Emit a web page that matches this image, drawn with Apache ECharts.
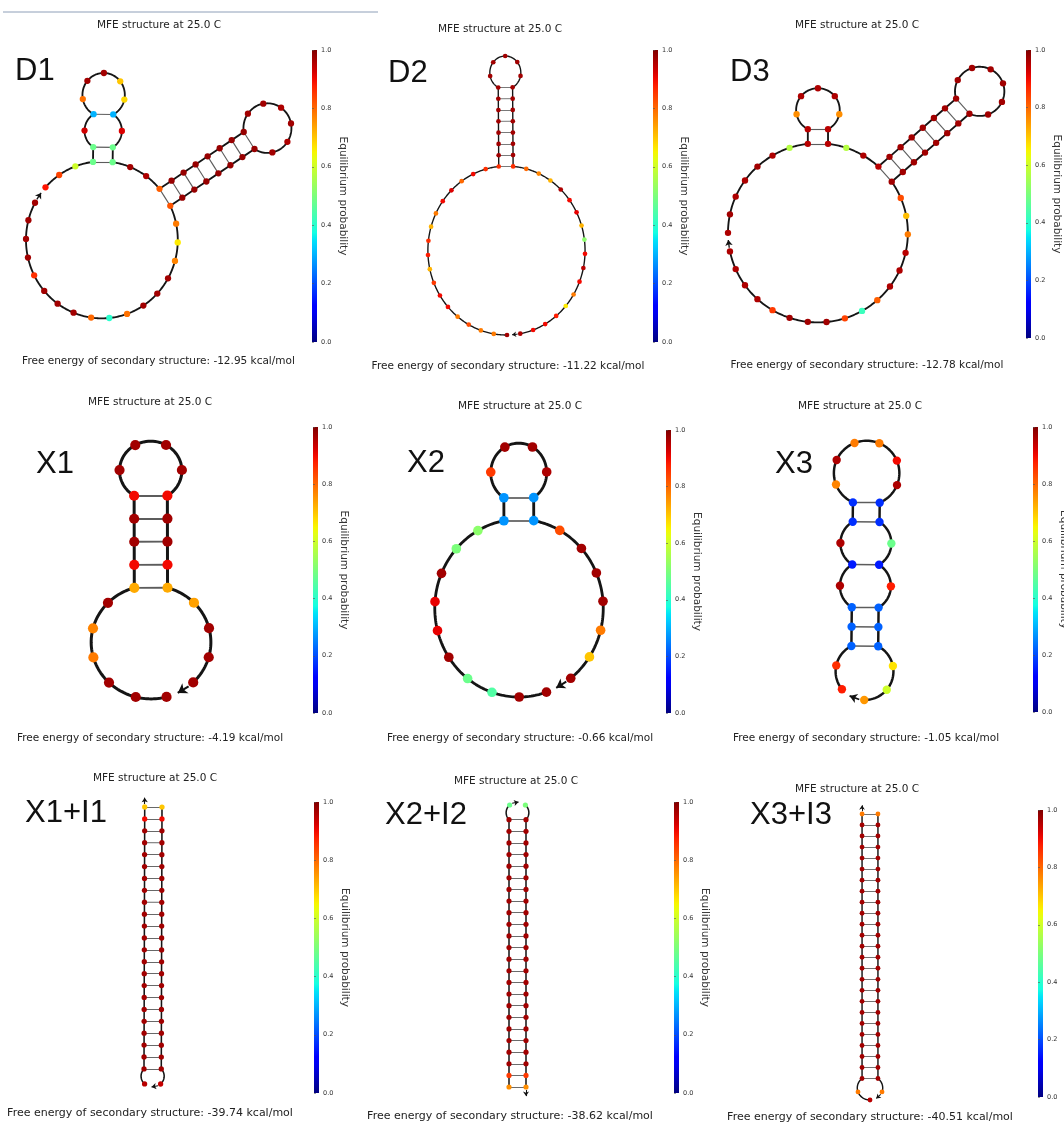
<!DOCTYPE html>
<html>
<head>
<meta charset="utf-8">
<title>MFE structures</title>
<script src="https://cdn.jsdelivr.net/npm/echarts@6.0.0/dist/echarts.min.js"></script>
<style>
html,body{margin:0;padding:0;background:#ffffff;}
#chart{width:1064px;height:1122px;}
</style>
</head>
<body>
<div id="chart"></div>
<script>
// ================= DATA =================
const panelLabels = ['D1','D2','D3','X1','X2','X3','X1+I1','X2+I2','X3+I3'];
const freeEnergies = [-12.95,-11.22,-12.78,-4.19,-0.66,-1.05,-39.74,-38.62,-40.51];
const temperatureC = 25.0;
const colorbarTicks = [0.0,0.2,0.4,0.6,0.8,1.0];

// dot-bracket structures ('+' = strand break)
const structD1 = '...' + '((' + '.' + '(' + '.....' + ')' + '.' + '))' + '..' + '((((((((' + '......' + '))))))))' + '.................';
const structD2 = '..................' + '((((((((' + '.....' + '))))))))' + '.................';
const structD3 = '.......' + '((' + '.....' + '))' + '..' + '((((((((' + '......' + '))))))))' + '.................';
const structX1 = '......' + '(((((' + '....' + ')))))' + '....';
const structX2 = '..........' + '((' + '....' + '))' + '.......';
const structX3 = '..(((.(.((......)).).)))...';
const structX1I1 = '.' + '(((((((((((((((((((((((' + '+' + ')))))))))))))))))))))))' + '.';
const structX2I2 = '((((((((((((((((((((((((' + '.' + '+' + '.' + '))))))))))))))))))))))))';
const structX3I3 = '..' + '(((((((((((((((((((((((((' + '+' + ')))))))))))))))))))))))))' + '.';

// equilibrium probability of each nucleotide (5' -> 3')
const probD1 = [0.89,0.84,0.60,0.48,0.48,0.93,0.30,0.79,0.97,0.97,0.70,0.68,0.30,0.92,0.48,0.48,0.97,0.96,0.81,
  0.98,0.98,0.98,0.98,0.98,0.98,0.98,
  0.97,0.97,0.96,0.97,0.96,0.97,
  0.98,0.98,0.98,0.98,0.98,0.98,0.98,
  0.82,0.78,0.66,0.77,0.97,0.97,0.97,0.79,0.40,0.80,0.97,0.97,0.97,0.86,0.97,0.97,0.97,0.97];
const probD2 = [0.97,0.78,0.78,0.83,0.78,0.90,0.90,0.85,0.72,0.88,0.86,0.72,0.78,0.90,0.92,0.80,0.90,0.86,0.86,
  0.97,0.97,0.97,0.97,0.97,0.97,0.97,
  0.97,0.97,0.97,0.97,0.97,
  0.97,0.97,0.97,0.97,0.97,0.97,0.97,
  0.86,0.80,0.77,0.72,0.96,0.90,0.91,0.72,0.52,0.90,0.95,0.90,0.78,0.66,0.88,0.90,0.90,0.96];
const probD3 = [0.96,0.97,0.96,0.96,0.97,0.96,0.57,0.95,0.95,0.76,0.96,0.96,0.96,0.76,0.95,0.95,0.57,0.96,0.95,
  0.97,0.97,0.97,0.97,0.97,0.97,0.97,
  0.97,0.97,0.97,0.97,0.97,0.97,
  0.97,0.97,0.97,0.97,0.97,0.97,0.97,0.97,
  0.83,0.71,0.78,0.95,0.96,0.96,0.81,0.42,0.84,0.97,0.97,0.97,0.85,0.96,0.96,0.96,0.96];
const probX1 = [0.97,0.97,0.97,0.78,0.77,0.97,0.73,0.90,0.97,0.97,0.90,0.97,0.97,0.97,0.97,0.90,0.97,0.97,0.90,0.73,0.74,0.97,0.97,0.97];
const probX2 = [0.97,0.97,0.45,0.48,0.97,0.91,0.91,0.97,0.50,0.52,0.27,0.27,0.85,0.97,0.97,0.96,0.27,0.27,0.83,0.97,0.97,0.97,0.78,0.70,0.97];
const probX3 = [0.88,0.86,0.22,0.22,0.22,0.96,0.15,0.96,0.17,0.17,0.77,0.96,0.78,0.78,0.90,0.96,0.17,0.17,0.48,0.15,0.88,0.22,0.22,0.22,0.67,0.60,0.75];
const probX1I1 = [0.95,
  0.97,0.97,0.97,0.97,0.97,0.97,0.97,0.97,0.97,0.97,0.97,0.97,0.97,0.97,0.97,0.97,0.97,0.97,0.97,0.97,0.97,
  0.90,0.70,
  0.70,0.90,
  0.97,0.97,0.97,0.97,0.97,0.97,0.97,0.97,0.97,0.97,0.97,0.97,0.97,0.97,0.97,0.97,0.97,0.97,0.97,0.97,0.97,
  0.94];
const probX2I2 = [0.76,0.85,
  0.97,0.97,0.97,0.97,0.97,0.97,0.97,0.97,0.97,0.97,0.97,0.97,0.97,0.97,0.97,0.97,0.97,0.97,0.97,0.97,0.97,0.97,
  0.48,
  0.50,
  0.97,0.97,0.97,0.97,0.97,0.97,0.97,0.97,0.97,0.97,0.97,0.97,0.97,0.97,0.97,0.97,0.97,0.97,0.97,0.97,0.97,0.97,
  0.85,0.76];
const probX3I3 = [0.95,0.78,
  0.97,0.97,0.97,0.97,0.97,0.97,0.97,0.97,0.97,0.97,0.97,0.97,0.97,0.97,0.97,0.97,0.97,0.97,0.97,0.97,0.97,0.97,0.97,0.97,
  0.78,
  0.78,
  0.97,0.97,0.97,0.97,0.97,0.97,0.97,0.97,0.97,0.97,0.97,0.97,0.97,0.97,0.97,0.97,0.97,0.97,0.97,0.97,0.97,0.97,0.97,0.97,
  0.78];

const structures = [structD1,structD2,structD3,structX1,structX2,structX3,structX1I1,structX2I2,structX3I3];
const probabilities = [probD1,probD2,probD3,probX1,probX2,probX3,probX1I1,probX2I2,probX3I3];

// ================= LAYOUT / STYLE (not data) =================
// sa: angle of first exterior-loop vertex; box: [x0,x1,y0,y1] px for nucleotide centres
const panelCfg = [
 {sa:-138,  box:[26,291,73,318],    title:[159,25.5], fe:[158.5,361.5], lab:[15,71],   cb:[312,50,342]},
 {sa:89.6,  box:[428,585,56,335],   title:[500,29],   fe:[508,366],     lab:[388,73],  cb:[653,50,342]},
 {sa:180,   box:[728,1003,68,322],  title:[857,25],   fe:[867,365],     lab:[730,72],  cb:[1026,50,338]},
 {sa:75,    box:[93,209,445,697],   title:[150,402],  fe:[150,738],     lab:[36,464],  cb:[313,427,713]},
 {sa:71,    box:[435,603,447,697],  title:[520,406],  fe:[520,738],     lab:[407,463], cb:[666,430,713]},
 {sa:141.4, box:[836,897,443,700],  title:[860,406],  fe:[866,738],     lab:[775,464], cb:[1033,427,712]},
 {sa:134,   box:[144,162,807,1084], title:[155,778],  fe:[150,1113],    lab:[25,813],  cb:[314,802,1093]},
 {sa:0,     box:[509,526,805,1087], title:[516,781],  fe:[510,1116],    lab:[385,815], cb:[674,802,1093]},
 {sa:90,    box:[858,882,814,1100], title:[857,789],  fe:[870,1117],    lab:[750,815], cb:[1038,810,1097]}
];
const GEOM = {W:1.08, S:0.79, G:1.0};
const FONT = 'DejaVu Sans';

// matplotlib "jet" colormap
function jet(v){
  function lin(xs, ys){
    if (v <= xs[0]) return ys[0];
    for (let i = 1; i < xs.length; i++) {
      if (v <= xs[i]) { const t = (v - xs[i-1]) / (xs[i] - xs[i-1]); return ys[i-1] + t * (ys[i] - ys[i-1]); }
    }
    return ys[ys.length-1];
  }
  const r = lin([0,0.35,0.66,0.89,1],[0,0,1,1,0.5]);
  const g = lin([0,0.125,0.375,0.64,0.91,1],[0,0,1,1,0,0]);
  const b = lin([0,0.11,0.34,0.65,1],[0.5,1,1,0,0]);
  return 'rgb(' + Math.round(r*255) + ',' + Math.round(g*255) + ',' + Math.round(b*255) + ')';
}

// loop-as-circle layout of a (multi-strand) secondary structure
function layoutRNA(db, sa, P){
  const parts = db.split('+');
  const s = parts.join('');
  const N = s.length;
  const isEnd = new Array(N).fill(false);
  const strands = [];
  let acc = 0;
  parts.forEach(p => { strands.push([acc, acc + p.length - 1]); acc += p.length; isEnd[acc-1] = true; });
  const pt = new Array(N).fill(-1);
  const st = [];
  for (let i = 0; i < N; i++) {
    if (s[i] === '(') st.push(i);
    else if (s[i] === ')') { const j = st.pop(); pt[i] = j; pt[j] = i; }
  }
  const pos = new Array(N);
  const arc = new Array(N).fill(null);
  const gapArc = new Array(N).fill(null);
  const len = t => t === 'pair' ? P.W : (t === 'gap' ? P.G : 1);

  function buildLoop(i, j){
    const v = [], t = [];
    let k, end;
    if (j < 0) { k = 0; end = N; } else { v.push(i); k = i + 1; end = j; }
    while (k < end) {
      if (v.length) t.push(isEnd[k-1] ? 'gap' : 'bb');
      v.push(k);
      if (pt[k] > k) { t.push('pair'); v.push(pt[k]); k = pt[k] + 1; } else k++;
    }
    if (j >= 0) { t.push(isEnd[j-1] ? 'gap' : 'bb'); v.push(j); t.push('pair'); }
    else t.push('gap');
    return {v, t};
  }
  function solveR(lens){
    let lo = Math.max.apply(null, lens) / 2 + 1e-9, hi = 1000;
    const f = R => lens.reduce((a, l) => a + 2 * Math.asin(Math.min(1, l / (2 * R))), 0) - 2 * Math.PI;
    for (let it = 0; it < 80; it++) { const m = (lo + hi) / 2; if (f(m) > 0) lo = m; else hi = m; }
    return (lo + hi) / 2;
  }
  function placeCircle(L, cx, cy, R, th0, anchored){
    let th = th0;
    const n = L.v.length;
    for (let m = 0; m < n; m++) {
      const u = L.v[m];
      if (!(anchored && (m === 0 || m === n - 1))) pos[u] = [cx + R * Math.cos(th), cy + R * Math.sin(th)];
      const ang = 2 * Math.asin(Math.min(1, len(L.t[m]) / (2 * R)));
      if (L.t[m] === 'bb') arc[u] = {cx, cy, R, a0: th, a1: th + ang};
      else if (L.t[m] === 'gap') gapArc[u] = {cx, cy, R, a0: th};
      th += ang;
    }
  }
  function branches(L){
    const n = L.v.length;
    for (let m = 0; m < n; m++) {
      const a = L.v[m], b = L.v[(m + 1) % n];
      if (L.t[m] === 'pair' && a < b) stem(a, b);
    }
  }
  function stem(a, b){
    let i = a, j = b;
    const dx = pos[b][0] - pos[a][0], dy = pos[b][1] - pos[a][1];
    const Lh = Math.hypot(dx, dy);
    const tx = dx / Lh, ty = dy / Lh;
    const nx = ty, ny = -tx;
    while (i + 1 < j - 1 && pt[i+1] === j - 1 && !isEnd[i] && !isEnd[j-1]) {
      pos[i+1] = [pos[i][0] + P.S * nx, pos[i][1] + P.S * ny];
      pos[j-1] = [pos[j][0] + P.S * nx, pos[j][1] + P.S * ny];
      i++; j--;
    }
    const L = buildLoop(i, j);
    if (L.v.length < 3) return;
    const R = solveR(L.t.map(len));
    const mx = (pos[i][0] + pos[j][0]) / 2, my = (pos[i][1] + pos[j][1]) / 2;
    const h = Math.sqrt(Math.max(0, R * R - P.W * P.W / 4));
    const cx = mx + nx * h, cy = my + ny * h;
    const th0 = Math.atan2(pos[i][1] - cy, pos[i][0] - cx);
    placeCircle(L, cx, cy, R, th0, true);
    branches(L);
  }
  const root = buildLoop(-1, -1);
  if (root.v.length >= 3) {
    const R = solveR(root.t.map(len));
    placeCircle(root, 0, 0, R, sa, false);
  } else {
    pos[root.v[0]] = [0, 0];
    pos[root.v[1]] = [P.W * Math.cos(sa), P.W * Math.sin(sa)];
  }
  branches(root);

  // backbone polylines, one per strand
  const backbone = strands.map(([s0, s1]) => {
    const pts = [pos[s0].slice()];
    for (let k = s0; k < s1; k++) {
      const A = arc[k];
      if (A) {
        const steps = 14;
        for (let q = 1; q <= steps; q++) {
          const th = A.a0 + (A.a1 - A.a0) * q / steps;
          pts.push([A.cx + A.R * Math.cos(th), A.cy + A.R * Math.sin(th)]);
        }
      } else pts.push(pos[k+1].slice());
    }
    return pts;
  });
  const rungs = [];
  for (let i = 0; i < N; i++) if (pt[i] > i) rungs.push([pos[i].slice(), pos[pt[i]].slice()]);
  // 3' arrows
  const arrows = strands.map(([s0, s1]) => {
    const e = s1, G = gapArc[e];
    if (G) {
      const p = th => [G.cx + G.R * Math.cos(th), G.cy + G.R * Math.sin(th)];
      return [p(G.a0 + 0.2 / G.R), p(G.a0 + 0.62 / G.R)];
    }
    const dx = pos[e][0] - pos[e-1][0], dy = pos[e][1] - pos[e-1][1];
    const l = Math.hypot(dx, dy);
    return [[pos[e][0] + 0.2 * dx / l, pos[e][1] + 0.2 * dy / l], [pos[e][0] + 0.62 * dx / l, pos[e][1] + 0.62 * dy / l]];
  });
  return {pos, backbone, rungs, arrows};
}

// ================= BUILD CHART =================
const chart = echarts.init(document.getElementById('chart'), null, {renderer: 'canvas'});
const grids = [], xAxes = [], yAxes = [], series = [], graphics = [];

const cbStops = [];
for (let k = 0; k <= 40; k++) cbStops.push({offset: k / 40, color: jet(1 - k / 40)});

graphics.push({type: 'line', shape: {x1: 3, y1: 12, x2: 378, y2: 12}, style: {stroke: '#8e9fb8', lineWidth: 1}, silent: true});

structures.forEach((db, idx) => {
  const cfg = panelCfg[idx];
  const prob = probabilities[idx];
  const L = layoutRNA(db, cfg.sa * Math.PI / 180, GEOM);
  if (L.pos.length !== prob.length) console.warn('length mismatch', panelLabels[idx], L.pos.length, prob.length);
  let x0 = Infinity, x1 = -Infinity, y0 = Infinity, y1 = -Infinity;
  L.pos.forEach(p => { x0 = Math.min(x0, p[0]); x1 = Math.max(x1, p[0]); y0 = Math.min(y0, p[1]); y1 = Math.max(y1, p[1]); });
  const [bx0, bx1, by0, by1] = cfg.box;
  const bw = bx1 - bx0, bh = by1 - by0;
  const sx = bw / Math.max(x1 - x0, 1e-6), sy = bh / Math.max(y1 - y0, 1e-6);
  const sc = Math.sqrt(sx * sy);
  const gi = grids.length;
  grids.push({left: bx0, top: by0, width: bw, height: bh, outerBoundsMode: 'none', containLabel: false});
  xAxes.push({type: 'value', gridIndex: gi, min: x0, max: x1, show: false});
  yAxes.push({type: 'value', gridIndex: gi, min: y0, max: y1, inverse: true, show: false});

  series.push({
    type: 'lines', coordinateSystem: 'cartesian2d', xAxisIndex: gi, yAxisIndex: gi, polyline: false,
    silent: true, clip: false, z: 1,
    lineStyle: {color: '#5c5c5c', width: Math.max(0.8, 0.06 * sc), opacity: 1},
    data: L.rungs.map(c => ({coords: c}))
  });
  series.push({
    type: 'lines', coordinateSystem: 'cartesian2d', xAxisIndex: gi, yAxisIndex: gi, polyline: true,
    silent: true, clip: false, z: 2,
    lineStyle: {color: '#151515', width: Math.max(1.1, 0.1 * sc), opacity: 1, cap: 'round', join: 'round'},
    data: L.backbone.map(c => ({coords: c}))
  });
  series.push({
    type: 'lines', coordinateSystem: 'cartesian2d', xAxisIndex: gi, yAxisIndex: gi,
    silent: true, clip: false, z: 2,
    symbol: ['none', 'arrow'], symbolSize: Math.max(4, 0.3 * sc),
    lineStyle: {color: '#111111', width: Math.max(1, 0.07 * sc), opacity: 1},
    data: L.arrows.map(c => ({coords: c}))
  });
  series.push({
    type: 'scatter', xAxisIndex: gi, yAxisIndex: gi, silent: true, clip: false, z: 3,
    symbol: 'circle', symbolSize: 0.34 * sc,
    itemStyle: {color: p => jet(p.value[2]), opacity: 1},
    data: L.pos.map((p, k) => [p[0], p[1], prob[k]])
  });

  // colour bar
  const [cbx, cbt, cbb] = cfg.cb;
  const ci = grids.length;
  grids.push({left: cbx, top: cbt, width: 5, height: cbb - cbt, show: true, borderWidth: 0,
    outerBoundsMode: 'none', containLabel: false,
    backgroundColor: {type: 'linear', x: 0, y: 0, x2: 0, y2: 1, colorStops: cbStops}});
  xAxes.push({type: 'value', gridIndex: ci, min: 0, max: 1, show: false});
  yAxes.push({type: 'value', gridIndex: ci, min: colorbarTicks[0], max: colorbarTicks[colorbarTicks.length - 1],
    interval: colorbarTicks[1] - colorbarTicks[0], position: 'right',
    axisLine: {show: false}, splitLine: {show: false},
    axisTick: {show: true, length: 2, lineStyle: {color: '#555', width: 0.6}},
    axisLabel: {fontSize: 6.5, color: '#333', margin: 4, fontFamily: FONT, formatter: v => v.toFixed(1)},
    name: 'Equilibrium probability', nameLocation: 'middle', nameGap: 20, nameRotate: -90,
    nameTextStyle: {fontSize: 10.5, color: '#333', fontFamily: FONT}
  });

  // texts
  graphics.push({type: 'text', x: cfg.title[0], y: cfg.title[1], silent: true,
    style: {text: 'MFE structure at ' + temperatureC.toFixed(1) + ' C', fontSize: 10.5, fontFamily: FONT, fill: '#222',
      align: 'center', verticalAlign: 'middle', textAlign: 'center', textVerticalAlign: 'middle'}});
  graphics.push({type: 'text', x: cfg.fe[0], y: cfg.fe[1], silent: true,
    style: {text: 'Free energy of secondary structure: ' + freeEnergies[idx].toFixed(2) + ' kcal/mol',
      fontSize: idx >= 6 ? 11 : 10.5, fontFamily: FONT, fill: '#222',
      align: 'center', verticalAlign: 'middle', textAlign: 'center', textVerticalAlign: 'middle'}});
  graphics.push({type: 'text', x: cfg.lab[0], y: cfg.lab[1], silent: true,
    style: {text: panelLabels[idx], fontSize: 31, fontFamily: 'Liberation Sans', fill: '#111',
      align: 'left', verticalAlign: 'middle', textAlign: 'left', textVerticalAlign: 'middle'}});
});

chart.setOption({
  animation: false,
  backgroundColor: '#ffffff',
  grid: grids,
  xAxis: xAxes,
  yAxis: yAxes,
  series: series,
  graphic: graphics
});
</script>
</body>
</html>
